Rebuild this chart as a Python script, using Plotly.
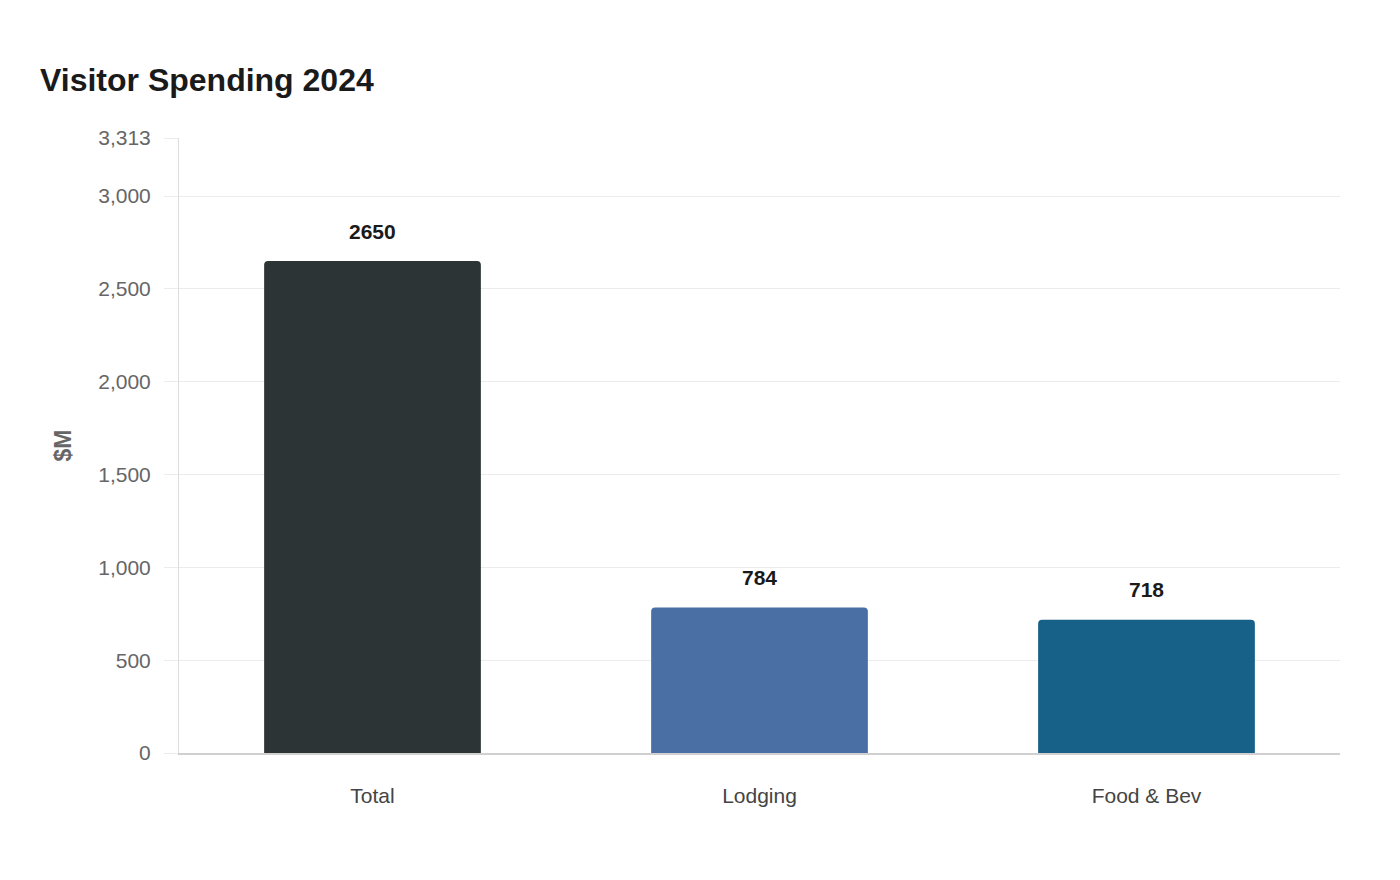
import math
import plotly.graph_objects as go

# data
categories = ["Total", "Lodging", "Food & Bev"]
spending = [2650, 784, 718]
bar_colors = ["#2d3436", "#4a6fa5", "#176087"]

y_max = max(spending) * 1.25
y_ticks = [0, 500, 1000, 1500, 2000, 2500, 3000, y_max]


def main():
    fig = go.Figure(go.Bar(
        x=categories,
        y=spending,
        marker=dict(color=bar_colors, cornerradius=4, line=dict(width=0)),
        hoverinfo="x+y",
    ))

    # value labels sitting above each bar
    for cat, val in zip(categories, spending):
        fig.add_annotation(
            x=cat, y=val, text=f"<b>{val}</b>", showarrow=False,
            yshift=30, font=dict(size=21, color="#1a1a1a"),
        )

    # page body has an 8px margin, so offsets are shifted by that
    fig.update_layout(
        title=dict(
            text="<b>Visitor Spending 2024</b>",
            x=32 / 1400, xref="container", xanchor="left",
            y=1 - 72 / 880, yref="container", yanchor="middle",
            font=dict(size=32, color="#1a1a1a"),
        ),
        font=dict(family="Liberation Sans, Arial, sans-serif"),
        width=1400, height=880,
        margin=dict(l=171, r=68, t=130, b=135),
        plot_bgcolor="white", paper_bgcolor="white",
        bargap=0.44,
        showlegend=False,
    )

    fig.update_yaxes(
        range=[0, y_max],
        tickvals=y_ticks,
        ticktext=[f"{math.ceil(v):,}" for v in y_ticks],
        tickfont=dict(size=21, color="#666666"),
        gridcolor="#ececec", gridwidth=1,
        showline=True, linecolor="#dddddd", linewidth=1,
        ticks="outside", ticklen=14, tickcolor="#ececec",
        ticklabelstandoff=9,
        zeroline=False,
        title=dict(text="<b>$M</b>", font=dict(size=23, color="#666666"), standoff=20),
    )
    fig.update_xaxes(
        tickfont=dict(size=21, color="#444444"),
        showline=True, linecolor="#d0d0d0", linewidth=2,
        ticks="", ticklabelstandoff=23,
        showgrid=False,
    )

    fig.write_html("out.html")


if __name__ == "__main__":
    main()
